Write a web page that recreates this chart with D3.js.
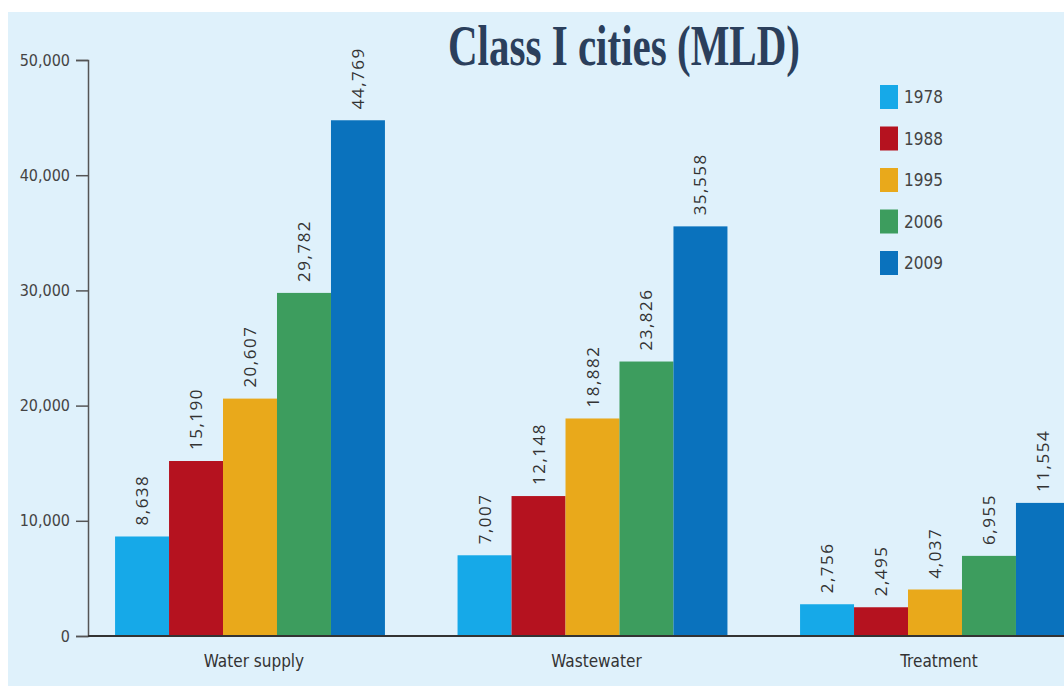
<!DOCTYPE html>
<html>
<head>
<meta charset="utf-8">
<script src="https://cdn.jsdelivr.net/npm/d3@7"></script>
<style>
  body { margin: 0; background: #fff; }
</style>
</head>
<body>
<div id="chart"></div>
<script>
// data
const categories = ["Water supply", "Wastewater", "Treatment"];
const years = ["1978", "1988", "1995", "2006", "2009"];
const values1978 = [8638, 7007, 2756];
const values1988 = [15190, 12148, 2495];
const values1995 = [20607, 18882, 4037];
const values2006 = [29782, 23826, 6955];
const values2009 = [44769, 35558, 11554];
const yTicks = [0, 10000, 20000, 30000, 40000, 50000];
const colors = ["#16a9e8", "#b5121f", "#e9a91b", "#3d9d5e", "#0a72bd"];

const series = [values1978, values1988, values1995, values2006, values2009];
const condensed = "DejaVu Sans Condensed, Liberation Sans Narrow, sans-serif";

const width = 1064, height = 686;
const svg = d3.select("#chart").append("svg")
  .attr("width", width)
  .attr("height", height);

// panel background
svg.append("rect")
  .attr("x", 8).attr("y", 12)
  .attr("width", width - 8).attr("height", height - 12)
  .attr("fill", "#dff1fb");

const y = d3.scaleLinear().domain([0, 50000]).range([636, 60]);

const x0 = d3.scaleBand()
  .domain(categories)
  .range([88, 1097])
  .paddingInner(0.212)
  .paddingOuter(0.079);

const x1 = d3.scaleBand()
  .domain(years)
  .range([0, x0.bandwidth()]);

// title
svg.append("text")
  .attr("x", 448).attr("y", 65)
  .attr("textLength", 352)
  .attr("lengthAdjust", "spacingAndGlyphs")
  .attr("font-family", "Liberation Serif, serif")
  .attr("font-weight", "bold")
  .attr("font-size", 56)
  .attr("fill", "#2b3f5c")
  .text("Class I cities (MLD)");

// bars
const groups = svg.selectAll("g.grp")
  .data(categories)
  .join("g")
  .attr("class", "grp")
  .attr("transform", d => `translate(${x0(d)},0)`);

groups.each(function(cat, ci) {
  const g = d3.select(this);
  const rows = years.map((yr, i) => ({ year: yr, value: series[i][ci], color: colors[i] }));
  g.selectAll("rect")
    .data(rows)
    .join("rect")
    .attr("x", d => x1(d.year))
    .attr("y", d => y(d.value))
    .attr("width", x1.bandwidth())
    .attr("height", d => y(0) - y(d.value))
    .attr("fill", d => d.color);

  g.selectAll("text")
    .data(rows)
    .join("text")
    .attr("transform", d => `translate(${x1(d.year) + x1.bandwidth() / 2 + 6},${y(d.value) - 11}) rotate(-90)`)
    .attr("font-family", "Open Sans, sans-serif")
    .attr("font-size", 17)
    .attr("fill", "#333")
    .attr("letter-spacing", 1.5)
    .text(d => d3.format(",")(d.value));
});

// y axis
const yAxis = d3.axisLeft(y)
  .tickValues(yTicks)
  .tickFormat(d3.format(","))
  .tickSize(12)
  .tickPadding(6);

const ay = svg.append("g")
  .attr("transform", "translate(88,0)")
  .call(yAxis);
ay.select(".domain").attr("stroke", "#555").attr("stroke-width", 1.5);
ay.selectAll(".tick line").attr("stroke", "#555").attr("stroke-width", 1.5);
ay.selectAll(".tick text")
  .attr("font-family", condensed)
  .attr("font-size", 16)
  .attr("fill", "#444");

// baseline
svg.append("line")
  .attr("x1", 88).attr("x2", width)
  .attr("y1", y(0)).attr("y2", y(0))
  .attr("stroke", "#333")
  .attr("stroke-width", 2);

// category labels
svg.selectAll("text.cat")
  .data(categories)
  .join("text")
  .attr("class", "cat")
  .attr("x", d => x0(d) + x0.bandwidth() / 2 + 4)
  .attr("y", 667)
  .attr("text-anchor", "middle")
  .attr("font-family", condensed)
  .attr("font-size", 17)
  .attr("fill", "#333")
  .text(d => d);

// legend
const legend = svg.selectAll("g.leg")
  .data(years)
  .join("g")
  .attr("class", "leg")
  .attr("transform", (d, i) => `translate(880,${97 + i * 41.5})`);

legend.append("rect")
  .attr("x", 0).attr("y", -12)
  .attr("width", 18).attr("height", 24)
  .attr("fill", (d, i) => colors[i]);

legend.append("text")
  .attr("x", 24).attr("y", 6)
  .attr("font-family", condensed)
  .attr("font-size", 17)
  .attr("fill", "#444")
  .text(d => d);
</script>
</body>
</html>
